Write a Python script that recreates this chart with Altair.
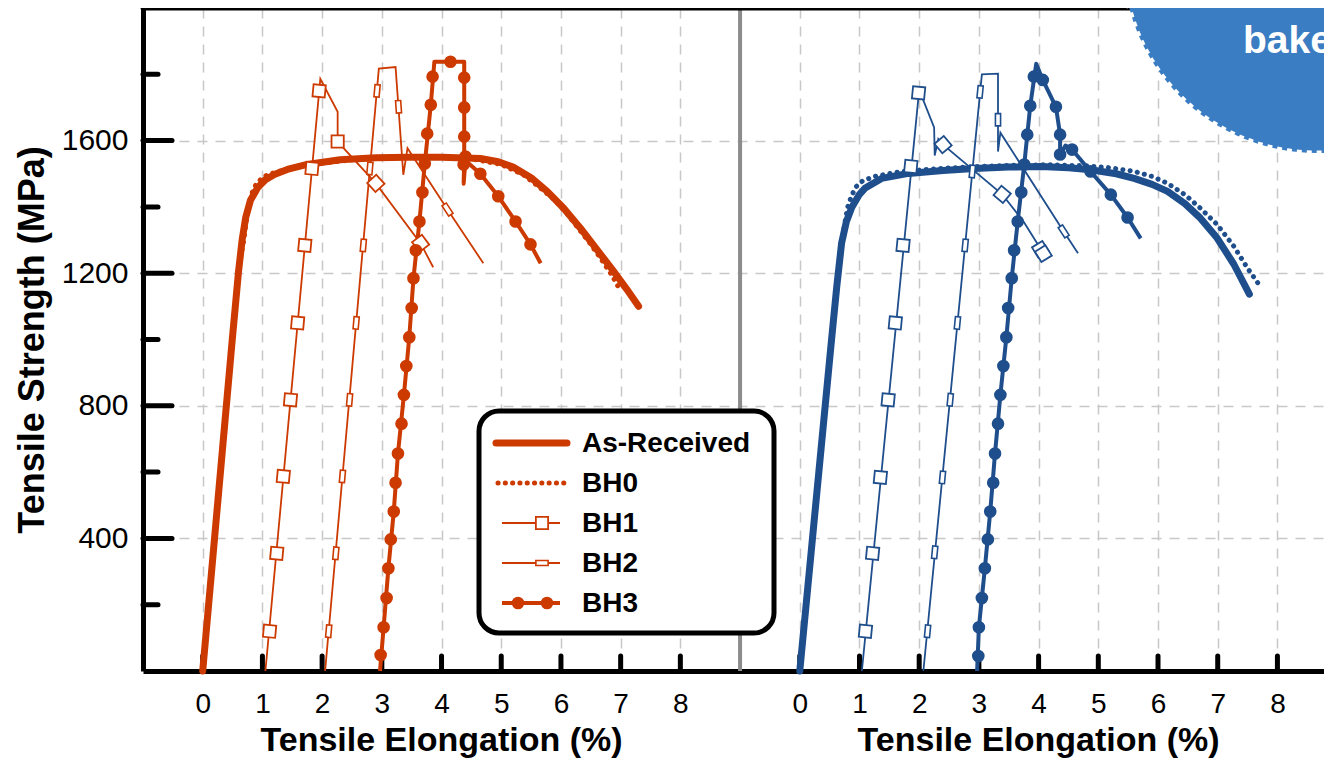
import math
import altair as alt
import pandas as pd

# ---------------- styling constants ----------------
RED = "#cc3a00"
BLUE = "#1f4e8c"
BLOB = "#3b7dc2"
FONT = "Liberation Sans"
W, H = 1181, 663
X_DOMAIN = [-1, 18.78]
Y_DOMAIN = [0, 2000]
PANEL_SHIFT = 10          # right panel drawn 10 units further on the shared x scale
SEPARATOR_X = [9]

# ---------------- categories / ticks ----------------
PANELS = ["L", "R"]
SERIES = ["As-Received", "BH0", "BH1", "BH2", "BH3"]
X_TICKS = [0, 1, 2, 3, 4, 5, 6, 7, 8]
Y_LABELS = [400, 800, 1200, 1600]
Y_MINOR = [200, 600, 1000, 1400, 1800]
X_TITLE = "Tensile Elongation (%)"
Y_TITLE = "Tensile Strength (MPa)"
TITLE_X = [4]

# ---------------- left panel (red) ----------------
L_AR_X = [0.0, 0.25, 0.49, 0.60, 0.66, 0.72, 0.80, 0.92, 1.05, 1.20, 1.45, 1.75, 2.30, 2.90, 3.45, 4.00,
          4.65, 4.95, 5.20, 5.50, 5.77, 6.05, 6.33, 6.60, 6.88, 7.10, 7.30]
L_AR_Y = [0, 505, 990, 1205, 1300, 1368, 1420, 1458, 1482, 1498, 1515, 1528, 1542, 1548, 1550, 1550,
          1546, 1536, 1520, 1488, 1447, 1395, 1335, 1272, 1206, 1152, 1100]

L_BH0_X = [0.0, 0.25, 0.49, 0.60, 0.69, 0.75, 0.82, 0.89, 1.00, 1.09, 1.36, 1.64, 2.00, 2.50, 3.00, 3.50,
           4.00, 4.50, 5.00, 5.37, 5.60, 5.87, 6.10, 6.33, 6.50, 6.66, 6.85, 7.00]
L_BH0_Y = [0, 505, 995, 1215, 1300, 1386, 1440, 1467, 1488, 1497, 1512, 1522, 1532, 1542, 1547, 1549,
           1549, 1545, 1528, 1497, 1465, 1425, 1380, 1326, 1287, 1246, 1195, 1146]

L_BH1_X = [1.05, 1.97, 2.26, 2.26, 2.90, 3.65, 3.86]
L_BH1_Y = [0, 1786, 1687, 1597, 1471, 1290, 1218]
L_BH1_MX = [1.12, 1.24, 1.35, 1.47, 1.59, 1.71, 1.83, 1.95, 2.26, 2.90, 3.65]
L_BH1_MY = [120, 355, 587, 818, 1050, 1284, 1516, 1750, 1597, 1471, 1290]

L_BH2_X = [2.05, 2.95, 3.23, 3.36, 3.43, 4.10, 4.70]
L_BH2_Y = [0, 1817, 1822, 1497, 1577, 1392, 1230]
L_BH2_MX = [2.11, 2.23, 2.34, 2.46, 2.57, 2.69, 2.80, 2.92, 3.28, 4.10]
L_BH2_MY = [120, 355, 587, 818, 1050, 1284, 1516, 1750, 1702, 1392]

L_BH3_X = [2.97, 3.03, 3.11, 3.20, 3.27, 3.37, 3.46, 3.53, 3.63, 3.72, 3.82, 3.88, 4.38, 4.38, 4.37,
           4.40, 4.65, 4.95, 5.24, 5.49, 5.66]
L_BH3_Y = [0, 132, 310, 481, 656, 833, 1007, 1185, 1356, 1531, 1708, 1838, 1838, 1545, 1470,
           1540, 1500, 1432, 1356, 1287, 1230]
L_BH3_MX = [2.98, 3.03, 3.08, 3.11, 3.15, 3.20, 3.23, 3.27, 3.33, 3.37, 3.41, 3.46, 3.50, 3.53, 3.57,
            3.63, 3.68, 3.72, 3.76, 3.82, 3.85, 4.15, 4.38, 4.38, 4.38, 4.40, 4.37, 4.65, 4.95, 5.24, 5.49]
L_BH3_MY = [48, 132, 220, 310, 397, 481, 568, 656, 746, 833, 920, 1007, 1095, 1185, 1269,
            1356, 1444, 1531, 1621, 1708, 1793, 1838, 1790, 1700, 1612, 1552, 1528, 1500, 1432, 1356, 1287]

# ---------------- right panel (blue) ----------------
R_AR_X = [0.0, 0.25, 0.53, 0.62, 0.70, 0.78, 0.87, 1.00, 1.09, 1.37, 1.82, 2.40, 2.92, 3.50, 4.04, 4.50,
          4.87, 5.30, 5.60, 5.90, 6.16, 6.45, 6.71, 6.99, 7.27, 7.53]
R_AR_Y = [0, 470, 996, 1160, 1290, 1355, 1398, 1438, 1456, 1486, 1501, 1510, 1516, 1520, 1522, 1518,
          1512, 1500, 1486, 1468, 1447, 1410, 1366, 1306, 1227, 1137]

R_BH0_X = [0.0, 0.30, 0.55, 0.66, 0.74, 0.80, 0.87, 0.95, 1.05, 1.25, 1.70, 2.37, 3.00, 3.60, 4.20, 4.80,
           5.20, 5.60, 5.90, 6.16, 6.45, 6.71, 6.99, 7.27, 7.50, 7.71]
R_BH0_Y = [0, 560, 1030, 1230, 1335, 1398, 1435, 1462, 1478, 1492, 1507, 1516, 1522, 1526, 1527, 1524,
           1518, 1507, 1492, 1471, 1437, 1396, 1347, 1281, 1215, 1161]

R_BH1_X = [1.04, 2.00, 2.25, 2.26, 2.32, 2.40, 3.39, 3.75, 4.09]
R_BH1_Y = [0, 1753, 1640, 1555, 1605, 1588, 1438, 1355, 1257]
R_BH1_MX = [1.10, 1.22, 1.35, 1.48, 1.60, 1.73, 1.86, 1.99, 2.40, 3.39, 4.03, 4.08]
R_BH1_MY = [120, 355, 584, 818, 1050, 1284, 1522, 1744, 1588, 1438, 1272, 1259]

R_BH2_X = [2.07, 3.05, 3.32, 3.32, 3.36, 4.42, 4.66]
R_BH2_Y = [0, 1800, 1802, 1567, 1624, 1326, 1260]
R_BH2_MX = [2.14, 2.26, 2.39, 2.52, 2.64, 2.77, 2.89, 3.02, 3.32, 4.42]
R_BH2_MY = [120, 358, 584, 818, 1050, 1284, 1507, 1747, 1663, 1326]

R_BH3_X = [2.97, 3.00, 3.10, 3.19, 3.27, 3.36, 3.46, 3.55, 3.65, 3.76, 3.86, 3.96, 4.07, 4.29, 4.36,
           4.36, 4.45, 4.56, 4.87, 5.21, 5.49, 5.71]
R_BH3_Y = [0, 132, 310, 481, 656, 833, 1007, 1185, 1356, 1528, 1705, 1832, 1783, 1702, 1618,
           1555, 1585, 1573, 1507, 1437, 1368, 1305]
R_BH3_MX = [2.99, 3.00, 3.05, 3.10, 3.15, 3.19, 3.24, 3.27, 3.32, 3.36, 3.41, 3.46, 3.49, 3.55, 3.59,
            3.65, 3.71, 3.76, 3.81, 3.86, 3.92, 4.07, 4.29, 4.36, 4.36, 4.56, 4.87, 5.21, 5.49]
R_BH3_MY = [45, 132, 220, 310, 397, 481, 568, 656, 746, 833, 920, 1007, 1095, 1185, 1269,
            1356, 1444, 1528, 1618, 1705, 1793, 1783, 1702, 1618, 1558, 1573, 1507, 1437, 1368]

BLOB_TEXT = "bake"

# ---------------- tables ----------------
PATHS = {
    ("L", "As-Received"): (L_AR_X, L_AR_Y), ("L", "BH0"): (L_BH0_X, L_BH0_Y),
    ("L", "BH1"): (L_BH1_X, L_BH1_Y), ("L", "BH2"): (L_BH2_X, L_BH2_Y), ("L", "BH3"): (L_BH3_X, L_BH3_Y),
    ("R", "As-Received"): (R_AR_X, R_AR_Y), ("R", "BH0"): (R_BH0_X, R_BH0_Y),
    ("R", "BH1"): (R_BH1_X, R_BH1_Y), ("R", "BH2"): (R_BH2_X, R_BH2_Y), ("R", "BH3"): (R_BH3_X, R_BH3_Y),
}
MARKERS = {
    ("L", "BH1"): (L_BH1_MX, L_BH1_MY), ("L", "BH2"): (L_BH2_MX, L_BH2_MY), ("L", "BH3"): (L_BH3_MX, L_BH3_MY),
    ("R", "BH1"): (R_BH1_MX, R_BH1_MY), ("R", "BH2"): (R_BH2_MX, R_BH2_MY), ("R", "BH3"): (R_BH3_MX, R_BH3_MY),
}

SX = W / (X_DOMAIN[1] - X_DOMAIN[0])
SY = H / (Y_DOMAIN[1] - Y_DOMAIN[0])


def seg_angle(mx, my, xs, ys):
    """Direction (screen degrees, clockwise) of the path segment nearest a marker."""
    px, py = mx * SX, -my * SY
    best_d, best_a = 1e18, 0.0
    for k in range(len(xs) - 1):
        ax, ay = xs[k] * SX, -ys[k] * SY
        bx, by = xs[k + 1] * SX, -ys[k + 1] * SY
        dx, dy = bx - ax, by - ay
        l2 = dx * dx + dy * dy
        if l2 == 0:
            continue
        t = max(0.0, min(1.0, ((px - ax) * dx + (py - ay) * dy) / l2))
        d = (ax + t * dx - px) ** 2 + (ay + t * dy - py) ** 2
        if d < best_d:
            best_d, best_a = d, math.degrees(math.atan2(dy, dx)) % 360
    return best_a


path_rows = []
for (panel, series), (xs, ys) in PATHS.items():
    for i, (x, y) in enumerate(zip(xs, ys)):
        path_rows.append({"panel": panel, "series": series, "i": i, "x": x, "y": y})
paths_df = pd.DataFrame(path_rows)

marker_rows = []
for (panel, series), (mxs, mys) in MARKERS.items():
    pxs, pys = PATHS[(panel, series)]
    for x, y in zip(mxs, mys):
        marker_rows.append({"panel": panel, "series": series, "x": x, "y": y,
                            "ang": round(seg_angle(x, y, pxs, pys), 1)})
markers_df = pd.DataFrame(marker_rows)

xtick_df = pd.DataFrame([{"panel": p, "x": v} for p in PANELS for v in X_TICKS])
ymajor_df = pd.DataFrame({"y": Y_LABELS})
yminor_df = pd.DataFrame({"y": Y_MINOR})
sep_df = pd.DataFrame({"xp": SEPARATOR_X})
title_df = pd.DataFrame([{"panel": p, "x": v} for p in PANELS for v in TITLE_X])
one_df = pd.DataFrame({"k": [0]})

SHIFT_EXPR = f"datum.panel == 'R' ? datum.x + {PANEL_SHIFT} : datum.x"

# ---------------- encodings ----------------
x_axis = alt.Axis(
    values=X_TICKS + [v + PANEL_SHIFT for v in X_TICKS],
    labelExpr=f"datum.value >= {PANEL_SHIFT} ? '' + (datum.value - {PANEL_SHIFT}) : '' + datum.value",
    title=None, ticks=False, tickSize=0, labelFontSize=28, labelFont=FONT, labelColor="black",
    labelPadding=41, labelBaseline="alphabetic", labelFlush=False, labelOverlap=False,
    domainColor="black", domainWidth=5, grid=True, gridColor="#c8c8c8", gridDash=[10, 8], gridWidth=1.5,
)
y_axis = alt.Axis(
    values=Y_LABELS, format="d", title=Y_TITLE, titleFontSize=36, titleFont=FONT, titleFontWeight="bold",
    titleColor="black", titleAngle=270, titleX=-100, titleY=H / 2, titleBaseline="alphabetic",
    titleAlign="center", ticks=False, tickSize=0, labelFontSize=30, labelFont=FONT, labelColor="black",
    labelPadding=15, labelOverlap=False, domainColor="black", domainWidth=5,
    grid=True, gridColor="#c8c8c8", gridDash=[10, 8], gridWidth=1.5,
)
X = alt.X("xp:Q", scale=alt.Scale(domain=X_DOMAIN, nice=False, zero=False), axis=x_axis)
Y = alt.Y("y:Q", scale=alt.Scale(domain=Y_DOMAIN, nice=False, zero=False), axis=y_axis)
COLOR = alt.Color("panel:N", scale=alt.Scale(domain=PANELS, range=[RED, BLUE]), legend=None)
STROKE = alt.Stroke("panel:N", scale=alt.Scale(domain=PANELS, range=[RED, BLUE]), legend=None)

layers = []

# frame pieces
layers.append(alt.Chart(sep_df).mark_rule(color="#8c8c8c", strokeWidth=4).encode(
    x=X, y=alt.value(0), y2=alt.value(H)))
layers.append(alt.Chart(one_df).mark_rule(color="black", strokeWidth=5, strokeCap="round").encode(
    x=alt.value(0), x2=alt.value(W), y=alt.value(0)))
layers.append(alt.Chart(ymajor_df).mark_rule(color="black", strokeWidth=5, strokeCap="round").encode(
    y=Y, x=alt.value(0), x2=alt.value(29)))
layers.append(alt.Chart(yminor_df).mark_rule(color="black", strokeWidth=5, strokeCap="round").encode(
    y=Y, x=alt.value(0), x2=alt.value(15)))
layers.append(alt.Chart(xtick_df).transform_calculate(xp=SHIFT_EXPR).mark_rule(
    color="black", strokeWidth=5, strokeCap="round").encode(x=X, y=alt.value(H), y2=alt.value(H - 15)))

# curves
base = alt.Chart(paths_df).transform_calculate(xp=SHIFT_EXPR)


def curve(series, **kw):
    return base.transform_filter(alt.datum.series == series).mark_line(**kw).encode(
        x=X, y=Y, color=COLOR, order="i:Q")


layers.append(curve("As-Received", strokeWidth=7, strokeCap="round", strokeJoin="round"))
layers.append(curve("BH0", strokeWidth=5, strokeCap="round", strokeDash=[0.1, 7.2]))
layers.append(curve("BH1", strokeWidth=1.8))
layers.append(curve("BH2", strokeWidth=1.8))
layers.append(curve("BH3", strokeWidth=4, strokeJoin="round"))

# markers
mbase = alt.Chart(markers_df).transform_calculate(xp=SHIFT_EXPR)
RECT_SHAPE = "M-1,-0.42L1,-0.42L1,0.42L-1,0.42Z"
DOT_SIZE = 160
layers.append(mbase.transform_filter(alt.datum.series == "BH1").mark_point(
    shape="square", size=150, filled=True, fill="white", strokeWidth=1.8, opacity=1).encode(
    x=X, y=Y, stroke=STROKE, angle=alt.Angle("ang:Q", scale=None)))
layers.append(mbase.transform_filter(alt.datum.series == "BH2").mark_point(
    shape=RECT_SHAPE, size=150, filled=True, fill="white", strokeWidth=1.6, opacity=1).encode(
    x=X, y=Y, stroke=STROKE, angle=alt.Angle("ang:Q", scale=None)))
layers.append(mbase.transform_filter(alt.datum.series == "BH3").mark_point(
    shape="circle", size=DOT_SIZE, filled=True, opacity=1).encode(x=X, y=Y, color=COLOR))

# legend (drawn box, left panel)
LEG = dict(x0=336, x1=631, y0=403, y1=625, row0=435, step=40, text_x=439)
layers.append(alt.Chart(one_df).mark_rect(fill="white", stroke="black", strokeWidth=5, cornerRadius=20).encode(
    x=alt.value(LEG["x0"]), x2=alt.value(LEG["x1"]), y=alt.value(LEG["y0"]), y2=alt.value(LEG["y1"])))
for i, name in enumerate(SERIES):
    ry = LEG["row0"] + LEG["step"] * i
    if name == "As-Received":
        layers.append(alt.Chart(one_df).mark_rule(color=RED, strokeWidth=7, strokeCap="round").encode(
            x=alt.value(353), x2=alt.value(424), y=alt.value(ry)))
    elif name == "BH0":
        layers.append(alt.Chart(one_df).mark_rule(color=RED, strokeWidth=5, strokeCap="round",
                                                  strokeDash=[0.1, 7.2]).encode(
            x=alt.value(355), x2=alt.value(425), y=alt.value(ry)))
    else:
        lw = 4 if name == "BH3" else 1.8
        layers.append(alt.Chart(one_df).mark_rule(color=RED, strokeWidth=lw).encode(
            x=alt.value(359), x2=alt.value(417), y=alt.value(ry)))
        if name == "BH1":
            layers.append(alt.Chart(one_df).mark_point(shape="square", size=150, filled=True, fill="white",
                                                       stroke=RED, strokeWidth=1.8, opacity=1).encode(
                x=alt.value(399), y=alt.value(ry)))
        elif name == "BH2":
            layers.append(alt.Chart(one_df).mark_point(shape=RECT_SHAPE, size=150, filled=True, fill="white",
                                                       stroke=RED, strokeWidth=1.6, opacity=1).encode(
                x=alt.value(399), y=alt.value(ry)))
        else:
            for cx in (375, 404):
                layers.append(alt.Chart(one_df).mark_point(shape="circle", size=DOT_SIZE, filled=True,
                                                           color=RED, opacity=1).encode(
                    x=alt.value(cx), y=alt.value(ry)))
    layers.append(alt.Chart(one_df).mark_text(
        text=name, font=FONT, fontSize=28, fontWeight="bold", color="black", align="left",
        baseline="alphabetic").encode(x=alt.value(LEG["text_x"]), y=alt.value(ry + 9)))

# x-axis titles (one per panel)
layers.append(alt.Chart(title_df).transform_calculate(xp=SHIFT_EXPR).mark_text(
    text=X_TITLE, font=FONT, fontSize=34, fontWeight="bold", color="black", align="center",
    baseline="alphabetic").encode(x=X, y=alt.value(H + 80)))

# decorative blob at the top-right corner (circle symbol radius = sqrt(size)/2)
BLOB_R = 194
layers.append(alt.Chart(one_df).mark_circle(size=(2 * BLOB_R) ** 2, color=BLOB, opacity=1, stroke="white",
                                            strokeWidth=5, strokeDash=[5, 5]).encode(
    x=alt.value(1174), y=alt.value(-49)))
layers.append(alt.Chart(one_df).mark_text(text=BLOB_TEXT, font=FONT, fontSize=39, fontWeight="bold",
                                          color="white", align="left", baseline="alphabetic").encode(
    x=alt.value(1100), y=alt.value(45)))

chart = alt.layer(*layers).properties(
    width=W, height=H,
    padding={"left": 135, "top": 0, "right": 0, "bottom": 87},
    autosize=alt.AutoSizeParams(type="none"),
).configure_view(stroke=None)

chart.save("out.html", embed_options={"renderer": "svg", "actions": False})
